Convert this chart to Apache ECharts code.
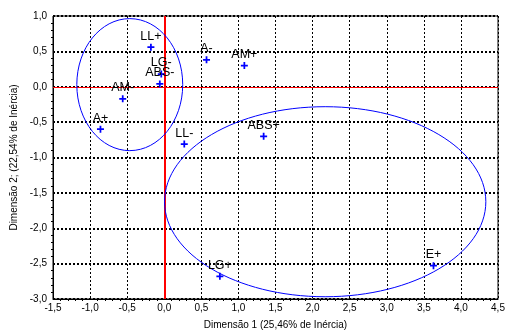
<!DOCTYPE html>
<html>
<head>
<meta charset="utf-8">
<script src="https://cdn.jsdelivr.net/npm/echarts@6/dist/echarts.min.js"></script>
<style>
	html, body { margin: 0; padding: 0; background: #fff; }
	#chart { width: 508px; height: 335px; }
</style>
</head>
<body>
<div id="chart"></div>
<script>
// categorias (pontos do plano fatorial)
var pointNames = ['LL+', 'LG-', 'ABS-', 'AM-', 'A+', 'LL-', 'A-', 'AM+', 'ABS+', 'LG+', 'E+'];
var dim1Values = [-0.18, -0.04, -0.06, -0.56, -0.86, 0.27, 0.57, 1.08, 1.34, 0.75, 3.63];
var dim2Values = [0.56, 0.18, 0.04, -0.17, -0.60, -0.81, 0.38, 0.30, -0.70, -2.68, -2.53];

// elipses: centro x, centro y, semi-eixo x, semi-eixo y
var ellipseValues = [
	[-0.465, 0.03, 0.714, 0.933],
	[2.17, -1.625, 2.166, 1.343]
];

var xTicks = { min: -1.5, max: 4.5, interval: 0.5 };
var yTicks = { min: -3.0, max: 1.0, interval: 0.5 };

var fmt = function(v) {
	return v.toFixed(1).replace('.', ',');
};

var points = [];
for (var i = 0; i < pointNames.length; i++) {
	points.push({
		name: pointNames[i],
		value: [dim1Values[i], dim2Values[i]]
	});
}

var myChart = echarts.init(document.getElementById('chart'));
var option = {
	animation: false,
	textStyle: {
		fontFamily: 'Liberation Sans, Arial, sans-serif'
	},
	grid: {
		left: 53,
		right: 10,
		top: 16,
		bottom: 36,
		show: true,
		borderColor: '#000',
		borderWidth: 1
	},
	xAxis: {
		type: 'value',
		min: xTicks.min,
		max: xTicks.max,
		interval: xTicks.interval,
		name: 'Dimensão 1 (25,46% de Inércia)',
		nameLocation: 'middle',
		nameGap: 21,
		nameTextStyle: { color: '#000', fontSize: 10 },
		axisLine: { onZero: false, lineStyle: { color: '#000' } },
		axisTick: { show: false },
		minorTick: { show: true, splitNumber: 5, length: 2, lineStyle: { color: '#000' } },
		axisLabel: {
			color: '#000',
			fontSize: 10,
			margin: 4,
			formatter: fmt
		},
		splitLine: {
			show: true,
			lineStyle: { color: '#000', type: [2, 2], width: 1 }
		}
	},
	yAxis: {
		type: 'value',
		min: yTicks.min,
		max: yTicks.max,
		interval: yTicks.interval,
		name: 'Dimensão 2; (22,54% de Inércia)',
		nameLocation: 'middle',
		nameGap: 34,
		nameTextStyle: { color: '#000', fontSize: 10 },
		axisLine: { onZero: false, lineStyle: { color: '#000' } },
		axisTick: { show: false },
		minorTick: { show: true, splitNumber: 5, length: 2, lineStyle: { color: '#000' } },
		axisLabel: {
			color: '#000',
			fontSize: 10,
			margin: 6,
			formatter: fmt
		},
		splitLine: {
			show: true,
			lineStyle: { color: '#000', type: [2, 2], width: 2 }
		}
	},
	series: [{
		type: 'custom',
		silent: true,
		z: 3,
		encode: { x: 0, y: 1 },
		data: ellipseValues,
		renderItem: function(params, api) {
			var c = api.coord([api.value(0), api.value(1)]);
			var s = api.size([api.value(2), api.value(3)]);
			return {
				type: 'ellipse',
				shape: { cx: c[0], cy: c[1], rx: s[0], ry: s[1] },
				style: { fill: null, stroke: '#0000ff', lineWidth: 1 }
			};
		}
	}, {
		type: 'scatter',
		z: 4,
		symbol: 'path://M3,0h2v3h3v2h-3v3h-2v-3h-3v-2h3z',
		symbolSize: 7,
		itemStyle: { color: '#0000ff', opacity: 1 },
		label: {
			show: true,
			position: 'top',
			distance: 1,
			color: '#000',
			fontSize: 12.5,
			formatter: '{b}'
		},
		data: points,
		markLine: {
			silent: true,
			symbol: 'none',
			label: { show: false },
			z: 2,
			data: [{
				xAxis: 0,
				lineStyle: { color: '#ff0000', type: 'solid', width: 2 }
			}, {
				yAxis: 0,
				lineStyle: { color: '#ff0000', type: 'solid', width: 1 }
			}]
		}
	}]
};
myChart.setOption(option);
</script>
</body>
</html>
